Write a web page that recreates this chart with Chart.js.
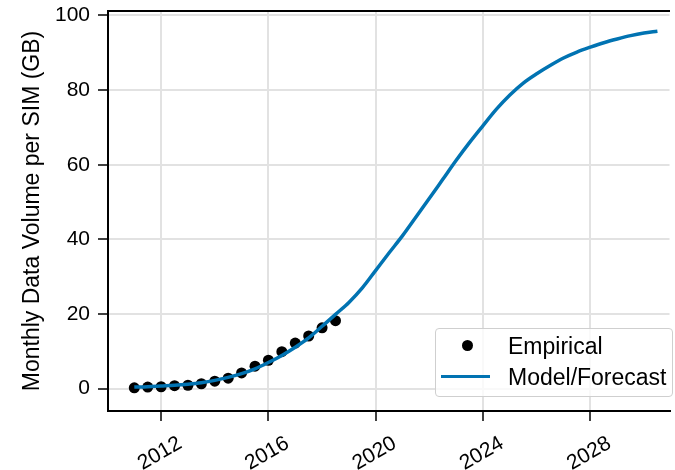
<!DOCTYPE html>
<html>
<head>
<meta charset="utf-8">
<script src="https://cdn.jsdelivr.net/npm/chart.js@4"></script>
<style>
  body { margin: 0; background: #fff; }
  #wrap { position: relative; width: 675px; height: 470px; overflow: hidden; }
  #legend {
    position: absolute; left: 435px; top: 328px; width: 236px; height: 67px;
    border: 1px solid #cfcfcf; border-radius: 4px; background: rgba(255,255,255,0.8);
    font: 23px "Liberation Sans", Arial, sans-serif; color: #000;
  }
  .row { position: absolute; left: 0; height: 30px; line-height: 30px; }
  .row .txt { position: absolute; left: 72px; white-space: nowrap; }
  .dot { position: absolute; left: 26px; top: 9px; width: 11px; height: 11px; border-radius: 50%; background: #000; }
  .ln { position: absolute; left: 5px; top: 13px; width: 49px; height: 3px; background: #0173B2; }
</style>
</head>
<body>
<div id="wrap">
  <canvas id="chart" width="675" height="470"></canvas>
  <div id="legend"></div>
</div>
<script>
const empYears = [2011, 2011.5, 2012, 2012.5, 2013, 2013.5, 2014, 2014.5,
  2015, 2015.5, 2016, 2016.5, 2017, 2017.5, 2018, 2018.5];
const empValues = [0.2, 0.4, 0.5, 0.8, 0.9, 1.3, 2.0, 2.8,
  4.2, 6.0, 7.6, 9.9, 12.2, 14.1, 16.3, 18.2];

const modelYears = [2011, 2011.5, 2012, 2012.5, 2013, 2013.5, 2014, 2014.5,
  2015, 2015.5, 2016, 2016.5, 2017, 2017.5, 2018, 2018.5,
  2019, 2019.5, 2020, 2020.5, 2021, 2021.5, 2022, 2022.5,
  2023, 2023.5, 2024, 2024.5, 2025, 2025.5, 2026, 2026.5,
  2027, 2027.5, 2028, 2028.5, 2029, 2029.5, 2030, 2030.5];
const modelValues = [0.4, 0.5, 0.7, 0.9, 1.2, 1.6, 2.2, 3.0,
  4.0, 5.3, 7.0, 8.9, 11.1, 13.6, 16.7, 19.9,
  23.1, 27.0, 31.7, 36.4, 41.0, 46.0, 51.0, 56.1,
  61.2, 66.0, 70.5, 74.9, 78.7, 81.9, 84.4, 86.6,
  88.6, 90.2, 91.5, 92.7, 93.7, 94.6, 95.3, 95.8];

const xTicks = [2012, 2016, 2020, 2024, 2028];
const yTicks = [0, 20, 40, 60, 80, 100];

const seriesNames = ["Empirical", "Model/Forecast"];
const yTitle = "Monthly Data Volume per SIM (GB)";

const FONT = "'Liberation Sans', Arial, sans-serif";
const BLUE = "#0173B2";
const GRID = "#e2e2e2";

const ctx = document.getElementById("chart");

new Chart(ctx, {
  type: "scatter",
  data: {
    datasets: [
      {
        label: seriesNames[0],
        data: empYears.map((x, i) => ({ x: x, y: empValues[i] })),
        backgroundColor: "#000",
        borderWidth: 0,
        pointRadius: 5.5,
        order: 2
      },
      {
        label: seriesNames[1],
        type: "line",
        data: modelYears.map((x, i) => ({ x: x, y: modelValues[i] })),
        borderColor: BLUE,
        borderWidth: 3.5,
        pointRadius: 0,
        cubicInterpolationMode: "monotone",
        fill: false,
        order: 1
      }
    ]
  },
  options: {
    responsive: false,
    animation: false,
    devicePixelRatio: 1,
    layout: { padding: 0 },
    plugins: {
      legend: { display: false },
      tooltip: { enabled: false }
    },
    scales: {
      x: {
        type: "linear",
        position: "bottom",
        min: 2010.02,
        max: 2030.95,
        afterBuildTicks: (s) => { s.ticks = xTicks.map(v => ({ value: v })); },
        afterFit: (s) => { s.height = 59; s.paddingLeft = 0; s.paddingRight = 0; },
        grid: { color: GRID, lineWidth: 2, tickColor: "#000", tickWidth: 1.5, tickLength: 10 },
        border: { color: "#000", width: 2 },
        ticks: {
          color: "#000",
          font: { family: FONT, size: 21 },
          minRotation: 30,
          maxRotation: 30,
          autoSkip: false,
          labelOffset: 19,
          padding: 10,
          callback: (v) => String(v)
        }
      },
      x2: {
        type: "linear",
        position: "top",
        min: 2010.02,
        max: 2030.95,
        afterFit: (s) => { s.height = 11; s.paddingLeft = 0; s.paddingRight = 0; },
        grid: { display: false, drawTicks: false },
        border: { color: "#000", width: 2 },
        ticks: { display: false }
      },
      y: {
        type: "linear",
        min: -6,
        max: 101.2,
        afterBuildTicks: (s) => { s.ticks = yTicks.map(v => ({ value: v })); },
        afterFit: (s) => { s.width = 108; s.paddingTop = 0; s.paddingBottom = 0; },
        grid: { color: GRID, lineWidth: 2, tickColor: "#000", tickWidth: 1.5, tickLength: 10 },
        border: { color: "#000", width: 2 },
        ticks: {
          color: "#000",
          font: { family: FONT, size: 21 },
          padding: 8
        },
        title: {
          display: true,
          text: yTitle,
          color: "#000",
          font: { family: FONT, size: 23 },
          padding: { top: 19, bottom: 0 }
        }
      }
    }
  }
});

// legend box (text from the series names)
const leg = document.getElementById("legend");
leg.innerHTML =
  '<div class="row" style="top:2px;width:100%"><span class="dot"></span><span class="txt">' + seriesNames[0] + '</span></div>' +
  '<div class="row" style="top:33px;width:100%"><span class="ln"></span><span class="txt">' + seriesNames[1] + '</span></div>';
</script>
</body>
</html>
